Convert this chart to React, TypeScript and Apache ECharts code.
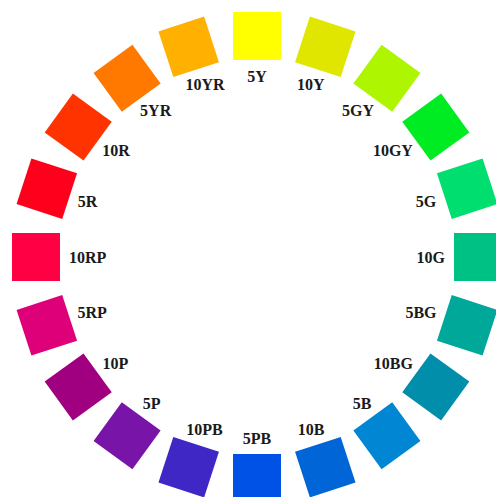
import React, { useEffect, useRef } from "react";
import * as echarts from "echarts";

const hues = ["5Y", "10Y", "5GY", "10GY", "5G", "10G", "5BG", "10BG", "5B", "10B", "5PB", "10PB", "5P", "10P", "5RP", "10RP", "5R", "10R", "5YR", "10YR"];
const colors = ["#FFFF00", "#E1E600", "#ADF500", "#00EC22", "#00DE70", "#00C184", "#00A89A", "#008EAA", "#0086D2", "#0066D8", "#0052E6", "#3F27C6", "#7815A8", "#A0007F", "#DE0078", "#FF0045", "#FF001C", "#FF3300", "#FF7800", "#FFB000"];

const SQUARE_R = 221;
const LABEL_R = 188;
const STEP = 360 / 20;
const FONT = "bold 16px 'Liberation Serif'";

function textWidth(s: string): number {
  const c = document.createElement("canvas").getContext("2d");
  if (!c) return s.length * 9;
  c.font = FONT;
  return c.measureText(s).width;
}

export default function App() {
  const ref = useRef<HTMLDivElement>(null);
  useEffect(() => {
    if (!ref.current) return;
    const chart = echarts.init(ref.current, undefined, { renderer: "svg" });
    chart.setOption({
      animation: false,
      backgroundColor: "#ffffff",
      polar: { center: [257, 257], radius: SQUARE_R },
      angleAxis: {
        type: "category",
        data: hues,
        startAngle: 90 + STEP / 2,
        clockwise: true,
        boundaryGap: true,
        show: false,
      },
      radiusAxis: { type: "value", min: 0, max: SQUARE_R, show: false },
      series: [
        {
          type: "scatter",
          coordinateSystem: "polar",
          symbol: "rect",
          symbolSize: 48,
          data: hues.map((h, i) => ({
            value: [SQUARE_R, h],
            symbolRotate: -STEP * i,
            itemStyle: { color: colors[i], opacity: 1 },
          })),
          silent: true,
        },
        {
          type: "scatter",
          coordinateSystem: "polar",
          symbolSize: 0,
          itemStyle: { opacity: 1 },
          data: hues.map((h, i) => {
            const a = ((90 - STEP * i) * Math.PI) / 180;
            const w = textWidth(h);
            return {
              value: [LABEL_R, h],
              name: h,
              label: { offset: [-Math.cos(a) * w / 2, Math.sin(a) * 7] },
            };
          }),
          label: {
            show: true,
            position: "inside",
            formatter: "{b}",
            fontFamily: "Liberation Serif",
            fontWeight: "bold",
            fontSize: 16,
            color: "#1a1a1a",
            opacity: 1,
          },
          silent: true,
        },
      ],
    });
    return () => chart.dispose();
  }, []);
  return <div ref={ref} style={{ position: "fixed", left: 0, top: 0, width: 496, height: 497 }} />;
}
